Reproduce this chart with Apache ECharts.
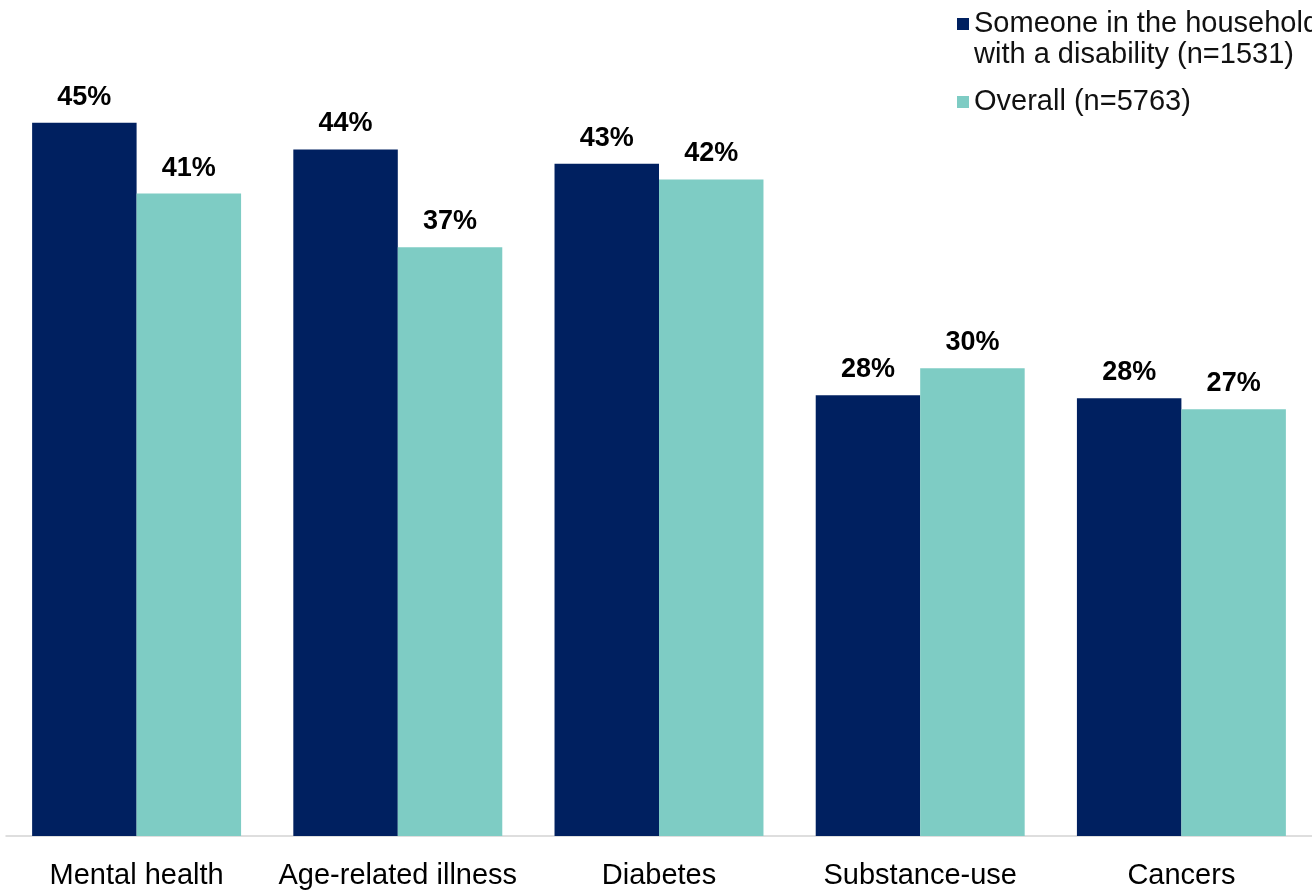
<!DOCTYPE html>
<html>
<head>
<meta charset="utf-8">
<script src="https://cdn.jsdelivr.net/npm/echarts@6/dist/echarts.min.js"></script>
<style>
html,body{margin:0;padding:0;background:#fff;}
#chart{width:1312px;height:890px;}
</style>
</head>
<body>
<div id="chart"></div>
<script>
var categories = ['Mental health', 'Age-related illness', 'Diabetes', 'Substance-use', 'Cancers'];
var seriesNames = ['Someone in the household with a disability (n=1531)', 'Overall (n=5763)'];
var disabilityValues = [45.3, 43.6, 42.7, 28.0, 27.8];
var overallValues = [40.8, 37.4, 41.7, 29.7, 27.1];

var FONT = '"Liberation Sans", Arial, sans-serif';
var chart = echarts.init(document.getElementById('chart'));

var labelOpt = {
  show: true,
  position: 'top',
  distance: 12,
  fontFamily: FONT,
  fontSize: 27,
  fontWeight: 'bold',
  color: '#000',
  formatter: function (p) { return Math.round(p.value) + '%'; }
};

chart.setOption({
  backgroundColor: '#fff',
  animation: false,
  legend: [
    {
      data: [seriesNames[0]],
      left: 957,
      top: -22.5,
      padding: 0,
      itemWidth: 12,
      itemHeight: 12,
      itemGap: 0,
      icon: 'rect',
      formatter: function (n) { return '\n' + n.replace(' household ', ' household\n'); },
      textStyle: { fontFamily: FONT, fontSize: 29, color: '#111', lineHeight: 31 }
    },
    {
      data: [seriesNames[1]],
      left: 957,
      top: 86.5,
      padding: 0,
      itemWidth: 12,
      itemHeight: 12,
      icon: 'rect',
      textStyle: { fontFamily: FONT, fontSize: 29, color: '#111', lineHeight: 31 }
    }
  ],
  grid: { left: 6, width: 1310, top: 48.75, bottom: 54, containLabel: false },
  xAxis: {
    type: 'category',
    data: categories,
    axisLine: { show: true, lineStyle: { color: '#d4d4d4', width: 1.5 } },
    axisTick: { show: false },
    axisLabel: { fontFamily: FONT, fontSize: 29, color: '#000', margin: 25, interval: 0 }
  },
  yAxis: {
    type: 'value',
    min: 0,
    max: 50,
    show: false,
    splitLine: { show: false }
  },
  series: [
    {
      name: seriesNames[0],
      type: 'bar',
      data: disabilityValues,
      barGap: '0%',
      barCategoryGap: '20%',
      itemStyle: { color: '#002060' },
      label: labelOpt
    },
    {
      name: seriesNames[1],
      type: 'bar',
      data: overallValues,
      barGap: '0%',
      barCategoryGap: '20%',
      itemStyle: { color: '#7ECCC4' },
      label: labelOpt
    }
  ]
});
</script>
</body>
</html>
